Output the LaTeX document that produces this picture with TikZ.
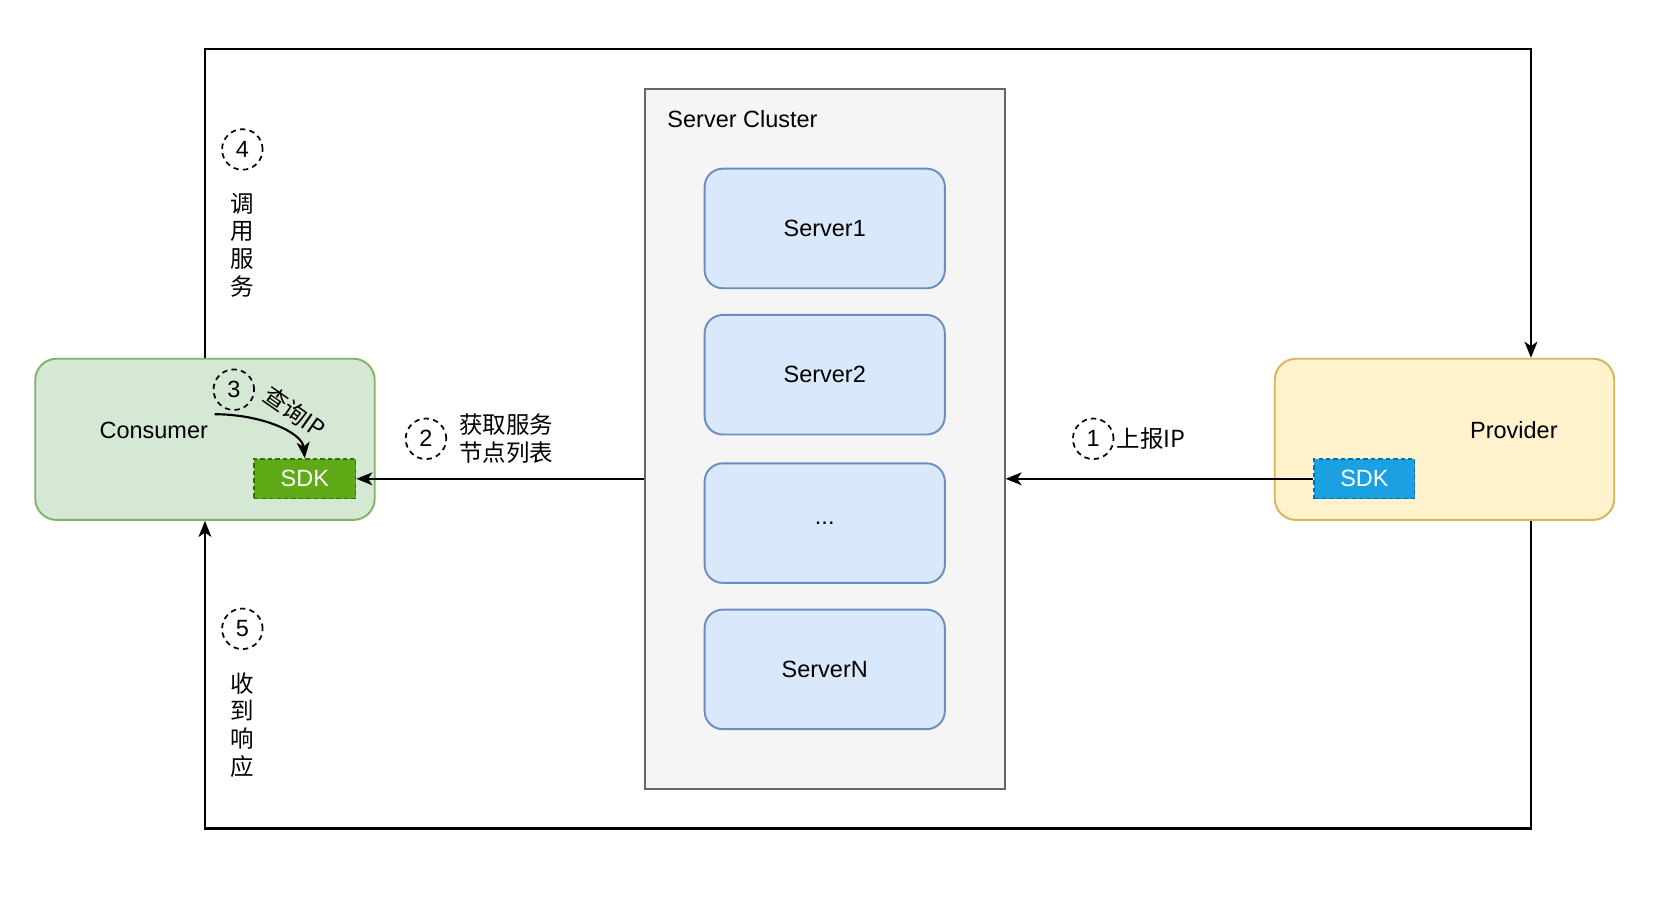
\documentclass[tikz,border=0pt]{standalone}
\usepackage{fontspec}
\setmainfont{Liberation Sans}
\newfontfamily\cjk{Noto Sans CJK SC}
\usetikzlibrary{arrows.meta}
\definecolor{cgreenF}{HTML}{D5E8D4}
\definecolor{cgreenD}{HTML}{82B366}
\definecolor{sdkgF}{HTML}{60A917}
\definecolor{sdkgD}{HTML}{2D7600}
\definecolor{cyelF}{HTML}{FFF2CC}
\definecolor{cyelD}{HTML}{D6B656}
\definecolor{sdkbF}{HTML}{1BA1E2}
\definecolor{sdkbD}{HTML}{006EAF}
\definecolor{cgrayF}{HTML}{F5F5F5}
\definecolor{cgrayD}{HTML}{666666}
\definecolor{cblueF}{HTML}{DAE8FC}
\definecolor{cblueD}{HTML}{6C8EBF}
\tikzset{
  x=1pt,y=-1pt,
  every node/.style={font=\fontsize{22}{26}\selectfont, inner sep=0pt},
  box/.style={draw, line width=1.8pt, rounded corners=20pt, minimum width=318pt, minimum height=151pt},
  srv/.style={draw=cblueD, fill=cblueF, line width=1.8pt, rounded corners=17pt, minimum width=225pt, minimum height=112pt},
  sdkbox/.style={draw, dashed, line width=1.5pt, dash pattern=on 4pt off 3pt, text=white, minimum height=37pt},
  numc/.style={circle, draw, line width=1.6pt, dash pattern=on 5pt off 4pt, minimum size=38pt},
  arr/.style={line width=2pt, -{Stealth[length=15pt,width=12pt,inset=4pt]}},
}
\begin{document}
\begin{tikzpicture}
\useasboundingbox (0,0) rectangle (1568,847);
\fill[white] (0,0) rectangle (1568,847);
% frame corners
\coordinate (tl) at (192,46);
\coordinate (tr) at (1434,46);
\coordinate (br) at (1434,776);
\coordinate (bl) at (192,776);
% consumer
\node[box, draw=cgreenD, fill=cgreenF] (consumer) at (192,411.5) {};
\node (ctext) at (144,403) {Consumer};
\node[sdkbox, draw=sdkgD, fill=sdkgF, minimum width=95pt] (csdk) at (285.5,448.5) {SDK};
% provider
\node[box, draw=cyelD, fill=cyelF] (provider) at (1353,411.5) {};
\node (ptext) at (1418,403) {Provider};
\node[sdkbox, draw=sdkbD, fill=sdkbF, minimum width=94pt] (psdk) at (1278,448.5) {SDK};
% cluster
\node[draw=cgrayD, fill=cgrayF, line width=1.8pt, minimum width=337pt, minimum height=656pt] (cluster) at (772.5,411) {};
\node[anchor=west] (ctitle) at (625,112) {Server Cluster};
\node[srv] (s1) at (772.5,214) {Server1};
\node[srv] (s2) at (772.5,351) {Server2};
\node[srv] (s3) at (772.5,490) {...};
\node[srv] (sn) at (772.5,627) {ServerN};
% number circles
\node[numc] (n1) at (1024,411) {1};
\node[numc] (n2) at (399,411) {2};
\node[numc] (n3) at (219,365) {3};
\node[numc] (n4) at (227,140) {4};
\node[numc] (n5) at (227,589) {5};
% labels
\node[anchor=west] (l1) at (1046,411) {\cjk 上报IP};
\node[align=left] (l2) at (474,411) {\cjk 获取服务\\\cjk 节点列表};
\node[rotate=-35] (l3) at (276,386) {\cjk 查询IP};
\node[align=center] (l4) at (227,229.5) {\cjk 调\\\cjk 用\\\cjk 服\\\cjk 务};
\node[align=center] (l5) at (227,679) {\cjk 收\\\cjk 到\\\cjk 响\\\cjk 应};
% connectors
\coordinate (c3s) at (201,388);
\draw[arr] (c3s) .. controls (245,388) and (283,405) .. (csdk.north);
\draw[arr] (psdk.west) -- (cluster.east |- psdk.west);
\draw[arr] (cluster.west |- csdk.east) -- (csdk.east);
\draw[arr] (consumer.north) -- (tl) -- (tr) -- (tr |- provider.north);
\draw[arr] (br |- provider.south) -- (br) -- (bl) -- (consumer.south);
\end{tikzpicture}
\end{document}
